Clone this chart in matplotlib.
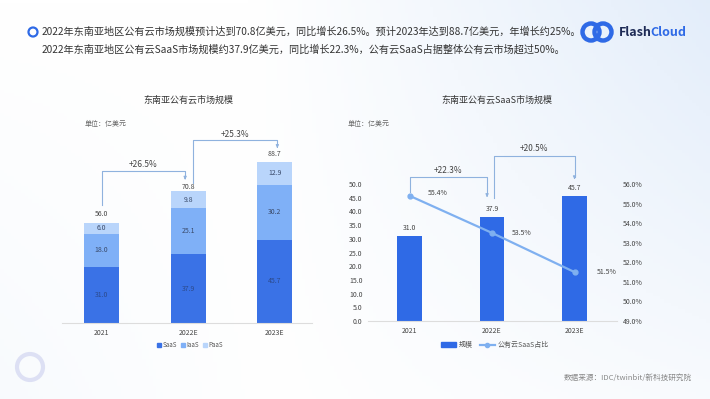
import numpy as np
import matplotlib
matplotlib.use('Agg')
import matplotlib.pyplot as plt
from matplotlib.patches import Patch, Ellipse
from matplotlib.lines import Line2D

plt.rcParams['font.family'] = ['Noto Sans CJK SC', 'DejaVu Sans']

# data
years = ['2021', '2022E', '2023E']
saas = [31.0, 37.9, 45.7]
iaas = [18.0, 25.1, 30.2]
paas = [6.0, 9.8, 12.9]
totals = [56.0, 70.8, 88.7]
total_growth = ['+26.5%', '+25.3%']
saas_growth = ['+22.3%', '+20.5%']
saas_share = [55.4, 53.5, 51.5]

header1 = '2022年东南亚地区公有云市场规模预计达到70.8亿美元，同比增长26.5%。预计2023年达到88.7亿美元，年增长约25%。'
header2 = '2022年东南亚地区公有云SaaS市场规模约37.9亿美元，同比增长22.3%，公有云SaaS占据整体公有云市场超过50%。'

W, H = 710, 399
def fx(px): return px / W
def fy(py): return 1 - py / H

c_saas = '#3a72e6'
c_iaas = '#7fb0f7'
c_paas = '#b9d5fb'
c_bar = '#2f6ae6'
c_line = '#7fb0f0'
c_brk = '#8fb2de'
c_txt = '#444444'

fig = plt.figure(figsize=(W / 100, H / 100), dpi=100)

def ring(cx, cy, d, color, lw):
    # circle given in pixels, drawn in figure fraction
    bg.add_patch(Ellipse((fx(cx), fy(cy)), d / W, d / H, transform=fig.transFigure,
                         fill=False, ec=color, lw=lw))

# background gradient
bg = fig.add_axes([0, 0, 1, 1], zorder=-10)
gx, gy = np.meshgrid(np.linspace(0, 1, 200), np.linspace(0, 1, 120))
a = np.clip((gx - 0.35) / 0.65, 0, 1) * (1 - 0.75 * gy) + 0.25 * np.clip(1 - gx * 2.5, 0, 1) * gy
a = np.clip(a, 0, 1)
top = np.array([0.89, 0.93, 0.98])
img = np.ones((120, 200, 3)) * (1 - a[..., None]) + top * a[..., None]
bg.imshow(img, extent=[0, 1, 0, 1], aspect='auto', origin='upper')
bg.set_xlim(0, 1)
bg.set_ylim(0, 1)
bg.set_axis_off()
ring(30, 367, 26, '#dde0f4', 3)

# header
ring(33, 32, 9, '#2f6ae6', 1.6)
fig.text(fx(42), fy(32), header1, fontsize=7.3, color='#333333', va='center')
fig.text(fx(42), fy(50), header2, fontsize=7.3, color='#333333', va='center')

# logo
ring(591, 32, 17, '#2f6ae6', 3.2)
ring(603, 32, 17, '#2f6ae6', 3.2)
fig.text(fx(619), fy(32), 'Flash', fontsize=9, fontweight='bold', color='#1d2a55', va='center')
fig.text(fx(650), fy(32), 'Cloud', fontsize=9, fontweight='bold', color='#2f6ae6', va='center')

# ---- left chart: stacked bars ----
ax1 = fig.add_axes([fx(62), fy(323), 250 / W, 200 / H])
x = np.arange(len(years))
bw = 0.405
ax1.bar(x, saas, bw, color=c_saas, label='SaaS')
ax1.bar(x, iaas, bw, bottom=saas, color=c_iaas, label='IaaS')
ax1.bar(x, paas, bw, bottom=np.add(saas, iaas), color=c_paas, label='PaaS')
for i in range(len(years)):
    ax1.text(x[i], saas[i] / 2, f'{saas[i]:.1f}', ha='center', va='center', fontsize=5, color='#2c4a8c')
    ax1.text(x[i], saas[i] + iaas[i] / 2, f'{iaas[i]:.1f}', ha='center', va='center', fontsize=5, color='#3a4a6a')
    ax1.text(x[i], saas[i] + iaas[i] + paas[i] / 2, f'{paas[i]:.1f}', ha='center', va='center', fontsize=5, color='#3a4a6a')
    ax1.text(x[i], totals[i] + 4, f'{totals[i]:.1f}', ha='center', va='center', fontsize=5, color=c_txt)
ax1.set_xlim(-0.457, 2.43)
ax1.set_ylim(0, 110)
ax1.set_xticks(x, years, fontsize=5, color=c_txt)
ax1.tick_params(axis='x', length=0, pad=4)
ax1.set_yticks([])
for s in ['top', 'right', 'left']:
    ax1.spines[s].set_visible(False)
ax1.spines['bottom'].set_color('#dddddd')
ax1.patch.set_alpha(0)

def bracket(ax, x0, y0, ytop, x1, y1, label, ly):
    ax.plot([x0, x0, x1, x1], [y0, ytop, ytop, y1 + 2], color=c_brk, lw=0.8, clip_on=False)
    ax.annotate('', xy=(x1, y1), xytext=(x1, y1 + 2.5), annotation_clip=False,
                arrowprops=dict(arrowstyle='-|>', color=c_brk, lw=0.8, mutation_scale=4))
    ax.text((x0 + x1) / 2, ly, label, ha='center', va='center', fontsize=6, color=c_txt)

bracket(ax1, 0, totals[0] + 9, totals[1] + 13, 0.965, totals[1] + 8, total_growth[0], totals[1] + 16.5)
bracket(ax1, 1.058, totals[1] + 6, totals[2] + 12, 2.03, totals[2] + 7.5, total_growth[1], totals[2] + 15)

fig.text(fx(188), fy(100), '东南亚公有云市场规模', fontsize=6.5, color='#333333', ha='center', va='center')
fig.text(fx(85), fy(124), '单位：亿美元', fontsize=5, color='#666666', va='center')
ax1.legend(handles=[Patch(color=c_saas), Patch(color=c_iaas), Patch(color=c_paas)],
           labels=['SaaS', 'IaaS', 'PaaS'], loc='center', bbox_to_anchor=(fx(190), fy(345)),
           bbox_transform=fig.transFigure, ncol=3, frameon=False, fontsize=4.5,
           handlelength=0.6, handleheight=0.6, columnspacing=0.6, handletextpad=0.3,
           labelcolor='#555555')

# ---- right chart: SaaS bars + share line ----
ax2 = fig.add_axes([fx(368), fy(321), 249 / W, 137 / H])
ax2.bar(x, saas, 0.30, color=c_bar)
for i in range(len(years)):
    ax2.text(x[i], saas[i] + 3, f'{saas[i]:.1f}', ha='center', va='center', fontsize=5, color=c_txt)
ax2.set_xlim(-0.503, 2.515)
ax2.set_ylim(0, 50)
ax2.set_yticks(np.arange(0, 51, 5))
ax2.set_yticklabels([f'{v:.1f}' for v in np.arange(0, 51, 5)], fontsize=5, color=c_txt)
ax2.set_xticks(x, years, fontsize=5, color=c_txt)
ax2.tick_params(axis='both', length=0, pad=4)
for s in ['top', 'right', 'left']:
    ax2.spines[s].set_visible(False)
ax2.spines['bottom'].set_color('#dddddd')
ax2.patch.set_alpha(0)

ax3 = ax2.twinx()
ax3.plot(x, saas_share, color=c_line, lw=1.6, marker='o', ms=3.5)
for i in range(len(years)):
    ax3.annotate(f'{saas_share[i]:.1f}%', (x[i], saas_share[i]), xytext=(18 + 2 * i, 3 if i == 0 else 0),
                 textcoords='offset pixels', ha='left', va='center', fontsize=5, color=c_txt)
ax3.set_ylim(49, 56)
ax3.set_yticks(np.arange(49, 57, 1))
ax3.set_yticklabels([f'{v:.1f}%' for v in np.arange(49, 57, 1)], fontsize=5, color=c_txt)
ax3.tick_params(axis='y', length=0, pad=4)
for s in ax3.spines.values():
    s.set_visible(False)

bracket(ax2, 0, saas[0] + 16, saas[1] + 14.7, 0.94, saas[1] + 6.3, saas_growth[0], saas[1] + 17.2)
bracket(ax2, 1.02, saas[1] + 7, saas[2] + 14.5, 2.0, saas[2] + 5, saas_growth[1], saas[2] + 17.4)

fig.text(fx(497), fy(100), '东南亚公有云SaaS市场规模', fontsize=6.5, color='#333333', ha='center', va='center')
fig.text(fx(348), fy(124), '单位：亿美元', fontsize=5, color='#666666', va='center')
ax2.legend(handles=[Patch(color=c_bar), Line2D([], [], color=c_line, lw=1.6, marker='o', ms=3)],
           labels=['规模', '公有云SaaS占比'], loc='center', bbox_to_anchor=(fx(495), fy(345)),
           bbox_transform=fig.transFigure, ncol=2, frameon=False, fontsize=5,
           handlelength=2.2, handleheight=0.7, columnspacing=1.0, handletextpad=0.4,
           labelcolor='#555555')

fig.text(fx(692), fy(378), '数据来源：IDC/twinbit/新科技研究院', fontsize=5.5, color='#888888',
         ha='right', va='center')

fig.savefig('out.png', dpi=100)
